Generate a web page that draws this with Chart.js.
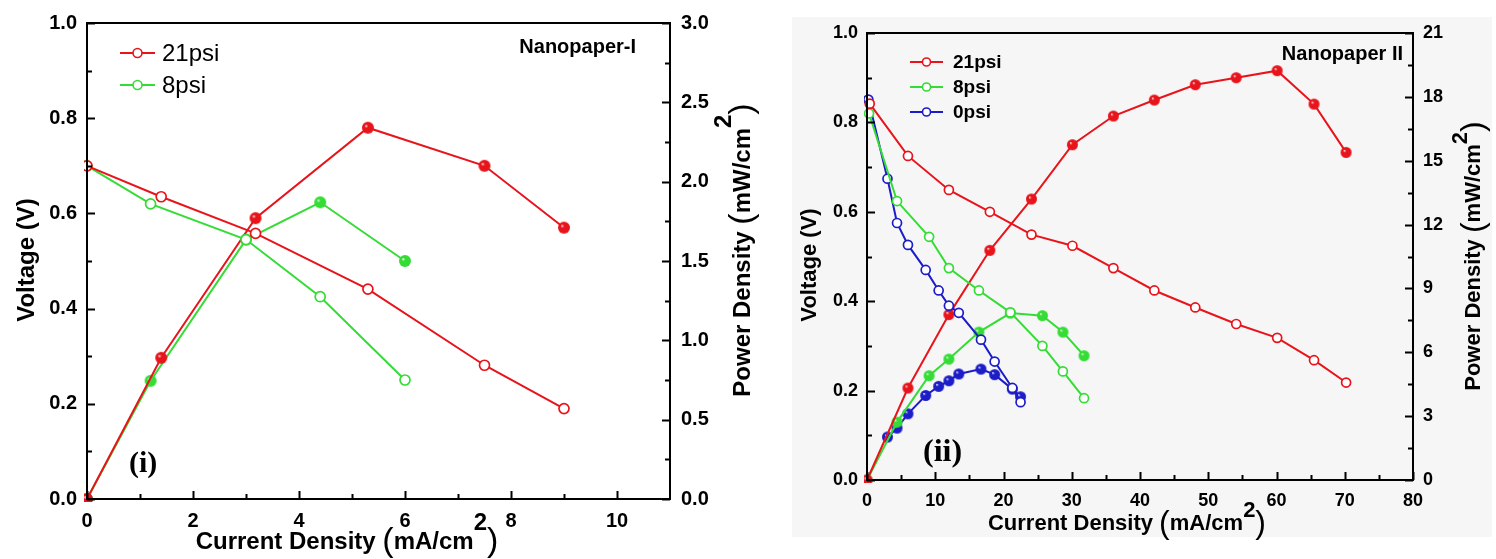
<!DOCTYPE html>
<html>
<head>
<meta charset="utf-8">
<script src="https://cdn.jsdelivr.net/npm/chart.js@4.4.1/dist/chart.umd.min.js"></script>
<style>
html, body { margin: 0; padding: 0; background: #fff; }
#wrap { position: relative; width: 1496px; height: 559px; overflow: hidden; }
#bg2 { position: absolute; left: 792px; top: 17px; width: 700px; height: 520px; background: #f6f6f6; }
#c1 { position: absolute; left: 0; top: 0; }
#c2 { position: absolute; left: 780px; top: 0; }
</style>
</head>
<body>
<div id="wrap">
  <div id="bg2"></div>
  <canvas id="c1" width="780" height="559"></canvas>
  <canvas id="c2" width="716" height="559"></canvas>
</div>
<script>
// ---------- panel (i): Nanopaper-I ----------
const namesA = ['21psi', '8psi'];
const cdA21 = [0, 1.4, 3.18, 5.3, 7.5, 9.0];
const voltA21 = [0.70, 0.635, 0.558, 0.441, 0.281, 0.19];
const powA21 = [0, 0.89, 1.77, 2.34, 2.10, 1.71];
const cdA8 = [0, 1.2, 3.0, 4.4, 6.0];
const voltA8 = [0.70, 0.62, 0.545, 0.425, 0.25];
const powA8 = [0, 0.745, 1.635, 1.87, 1.50];
const xTicksA = [0, 2, 4, 6, 8, 10];
const vTicksA = [0, 0.2, 0.4, 0.6, 0.8, 1.0];
const pTicksA = [0, 0.5, 1.0, 1.5, 2.0, 2.5, 3.0];

// ---------- panel (ii): Nanopaper II ----------
const namesB = ['21psi', '8psi', '0psi'];
const cdB21 = [0.4, 6.0, 12.0, 18.0, 24.1, 30.1, 36.1, 42.1, 48.1, 54.1, 60.1, 65.5, 70.2];
const voltB21 = [0.842, 0.725, 0.649, 0.600, 0.549, 0.524, 0.474, 0.424, 0.386, 0.349, 0.318, 0.268, 0.218];
const cdB21p = [0, 6.0, 12.0, 18.0, 24.1, 30.1, 36.1, 42.1, 48.1, 54.1, 60.1, 65.5, 70.2];
const powB21 = [0, 4.32, 7.77, 10.79, 13.2, 15.75, 17.1, 17.85, 18.57, 18.9, 19.23, 17.66, 15.39];
const cdB8 = [0.3, 4.4, 9.1, 12.0, 16.4, 21.0, 25.7, 28.7, 31.8];
const voltB8 = [0.82, 0.624, 0.544, 0.474, 0.424, 0.375, 0.300, 0.243, 0.183];
const cdB8p = [0, 4.4, 9.1, 12.0, 16.4, 21.0, 25.7, 28.7, 31.8];
const powB8 = [0, 2.72, 4.90, 5.68, 6.95, 7.84, 7.72, 6.95, 5.84];
const cdB0 = [0.2, 3.0, 4.4, 6.0, 8.6, 10.5, 12.0, 13.45, 16.7, 18.7, 21.3, 22.5];
const voltB0 = [0.851, 0.674, 0.575, 0.526, 0.470, 0.424, 0.390, 0.374, 0.314, 0.265, 0.206, 0.174];
const cdB0p = [3.0, 4.4, 6.0, 8.6, 10.5, 12.0, 13.45, 16.7, 18.7, 21.3, 22.5];
const powB0 = [2.02, 2.44, 3.11, 3.97, 4.40, 4.66, 4.98, 5.21, 4.95, 4.27, 3.91];
const xTicksB = [0, 10, 20, 30, 40, 50, 60, 70, 80];
const vTicksB = [0, 0.2, 0.4, 0.6, 0.8, 1.0];
const pTicksB = [0, 3, 6, 9, 12, 15, 18, 21];

const RED = '#e8141b', GREEN = '#35dc35', BLUE = '#1c1cc8';
const SANS = '"Liberation Sans", Arial, sans-serif';
const SERIF = '"Liberation Serif", "Times New Roman", serif';
const CLIP = { left: 3, bottom: 3, top: 30, right: 30 };

function pts(xs, ys) {
    return xs.map((x, i) => ({ x: x, y: ys[i] }));
}

// shaded ball marker, like the filled symbols of the original plot
function ball(color, r) {
    const s = Math.ceil(r * 2 + 2);
    const c = document.createElement('canvas');
    c.width = s; c.height = s;
    const g = c.getContext('2d');
    const m = s / 2;
    const grad = g.createRadialGradient(m - r * 0.35, m - r * 0.35, 0, m, m, r);
    grad.addColorStop(0, '#ffffff');
    grad.addColorStop(0.3, color);
    grad.addColorStop(1, color);
    g.fillStyle = grad;
    g.beginPath();
    g.arc(m, m, r, 0, Math.PI * 2);
    g.fill();
    return c;
}

// voltage curves: open circles on left axis
function openSet(label, xs, ys, color, r) {
    return {
        label: label, data: pts(xs, ys), yAxisID: 'y',
        borderColor: color, borderWidth: 2, tension: 0,
        pointRadius: r, pointBorderWidth: 1.7,
        pointBackgroundColor: '#fff', pointBorderColor: color, clip: CLIP
    };
}

// power curves: filled circles on right axis
function fillSet(label, xs, ys, color, r) {
    return {
        label: label, data: pts(xs, ys), yAxisID: 'y2',
        borderColor: color, borderWidth: 2, tension: 0,
        pointStyle: ball(color, r), pointRadius: r,
        pointBackgroundColor: color, pointBorderColor: color, clip: CLIP
    };
}

function richText(ctx, parts, x, y, rot) {
    ctx.save();
    ctx.translate(x, y);
    if (rot) ctx.rotate(rot);
    let w = 0;
    parts.forEach(p => { ctx.font = p[1]; w += ctx.measureText(p[0]).width; });
    let cx = -w / 2;
    ctx.textAlign = 'left';
    ctx.textBaseline = 'alphabetic';
    ctx.fillStyle = '#000';
    parts.forEach(p => {
        ctx.font = p[1];
        ctx.fillText(p[0], cx, p[2] || 0);
        cx += ctx.measureText(p[0]).width;
    });
    ctx.restore();
}

// frame, inward ticks, titles, legend and labels
function decor(cfg) {
    return {
        id: 'decor',
        afterDraw(chart) {
            const ctx = chart.ctx;
            const a = chart.chartArea;
            ctx.save();
            ctx.strokeStyle = '#000';
            ctx.lineWidth = 2;
            ctx.strokeRect(a.left, a.top, a.right - a.left, a.bottom - a.top);

            const drawTicks = (scale, vals, side) => {
                const all = [];
                vals.forEach((v, i) => {
                    all.push([v, 8]);
                    if (i < vals.length - 1) all.push([(v + vals[i + 1]) / 2, 5]);
                });
                ctx.beginPath();
                all.forEach(t => {
                    const p = Math.round(scale.getPixelForValue(t[0])) + 0.5;
                    if (side === 'bottom') { ctx.moveTo(p, a.bottom); ctx.lineTo(p, a.bottom - t[1]); }
                    if (side === 'left') { ctx.moveTo(a.left, p); ctx.lineTo(a.left + t[1], p); }
                    if (side === 'right') { ctx.moveTo(a.right, p); ctx.lineTo(a.right - t[1], p); }
                });
                ctx.stroke();
            };
            drawTicks(chart.scales.x, cfg.xTicks, 'bottom');
            drawTicks(chart.scales.y, cfg.vTicks, 'left');
            drawTicks(chart.scales.y2, cfg.pTicks, 'right');
            ctx.restore();

            // axis titles
            const t = cfg.titles;
            richText(ctx, [['Voltage (V)', t.font]], t.left[0], t.left[1], -Math.PI / 2);
            richText(ctx, [
                ['Power Density ', t.font],
                ['(', t.paren, t.pdy],
                ['mW/cm', t.font],
                ['2', t.font, -t.sup],
                [')', t.paren, t.pdy]
            ], t.right[0], t.right[1], -Math.PI / 2);
            richText(ctx, [
                ['Current Density ', t.font],
                ['(', t.paren, t.pdy],
                ['mA/cm', t.font],
                ['2', t.font, -t.sup],
                [')', t.paren, t.pdy]
            ], t.bottom[0], t.bottom[1], 0);

            // legend
            const lg = cfg.legend;
            ctx.save();
            lg.rows.forEach((row, i) => {
                const ds = chart.data.datasets[i];
                ctx.strokeStyle = ds.borderColor;
                ctx.lineWidth = 2;
                ctx.beginPath();
                ctx.moveTo(lg.x0, row);
                ctx.lineTo(lg.x1, row);
                ctx.stroke();
                ctx.beginPath();
                ctx.fillStyle = '#fff';
                ctx.lineWidth = 1.6;
                ctx.arc((lg.x0 + lg.x1) / 2, row, lg.r, 0, Math.PI * 2);
                ctx.fill();
                ctx.stroke();
                ctx.fillStyle = '#000';
                ctx.font = lg.font;
                ctx.textAlign = 'left';
                ctx.textBaseline = 'alphabetic';
                ctx.fillText(lg.names[i], lg.tx, row + lg.tdy);
            });

            // sample name and panel tag
            ctx.font = cfg.name.font;
            ctx.textAlign = 'right';
            ctx.fillText(cfg.name.text, cfg.name.x, cfg.name.y);
            ctx.font = cfg.tag.font;
            ctx.textAlign = 'left';
            ctx.fillText(cfg.tag.text, cfg.tag.x, cfg.tag.y);
            ctx.restore();
        }
    };
}

function makeChart(id, cfg) {
    const tickFont = { family: SANS, size: cfg.tickSize, weight: 'bold' };
    const noGrid = { display: false, drawTicks: false };
    return new Chart(document.getElementById(id), {
        type: 'line',
        data: { datasets: cfg.datasets },
        options: {
            responsive: false,
            animation: false,
            layout: { padding: { top: cfg.top, left: 0, right: 0, bottom: 0 }, autoPadding: false },
            plugins: { legend: { display: false }, tooltip: { enabled: false } },
            scales: {
                x: {
                    type: 'linear', min: cfg.xMin, max: cfg.xMax,
                    grid: noGrid, border: { display: false },
                    ticks: { font: tickFont, color: '#000', padding: cfg.xPad, maxRotation: 0, autoSkip: false,
                             callback: v => String(v) },
                    afterBuildTicks: s => { s.ticks = cfg.xTicks.map(v => ({ value: v })); },
                    afterFit: s => { s.height = cfg.xH; }
                },
                y: {
                    position: 'left', min: 0, max: 1,
                    grid: noGrid, border: { display: false },
                    ticks: { font: tickFont, color: '#000', padding: cfg.yPad, autoSkip: false,
                             callback: v => Number(v).toFixed(1) },
                    afterBuildTicks: s => { s.ticks = cfg.vTicks.map(v => ({ value: v })); },
                    afterFit: s => { s.width = cfg.yW; }
                },
                y2: {
                    position: 'right', min: cfg.pMin, max: cfg.pMax,
                    grid: noGrid, border: { display: false },
                    ticks: { font: tickFont, color: '#000', padding: cfg.y2Pad, autoSkip: false,
                             callback: cfg.pFmt },
                    afterBuildTicks: s => { s.ticks = cfg.pTicks.map(v => ({ value: v })); },
                    afterFit: s => { s.width = cfg.y2W; }
                }
            }
        },
        plugins: [decor(cfg)]
    });
}

// panel (i)
makeChart('c1', {
    datasets: [
        openSet(namesA[0], cdA21, voltA21, RED, 5),
        openSet(namesA[1], cdA8, voltA8, GREEN, 5),
        fillSet(namesA[0], cdA21, powA21, RED, 6),
        fillSet(namesA[1], cdA8, powA8, GREEN, 6)
    ],
    top: 20, xH: 60, yW: 87, y2W: 110,
    xMin: 0, xMax: 11, pMin: 0, pMax: 3,
    xTicks: xTicksA, vTicks: vTicksA, pTicks: pTicksA,
    pFmt: v => Number(v).toFixed(1),
    tickSize: 20, xPad: 10, yPad: 10, y2Pad: 11,
    titles: {
        font: 'bold 24px ' + SANS, paren: '34px ' + SANS, pdy: 2, sup: 19,
        left: [34, 260], right: [750, 250], bottom: [347, 549]
    },
    legend: { names: namesA, rows: [53, 85], x0: 120, x1: 155, r: 4.5, tx: 162, tdy: 8, font: '24px ' + SANS },
    name: { text: 'Nanopaper-I', font: 'bold 20px ' + SANS, x: 636, y: 53 },
    tag: { text: '(i)', font: 'bold 30px ' + SERIF, x: 129, y: 472 }
});

// panel (ii)
makeChart('c2', {
    datasets: [
        openSet(namesB[0], cdB21, voltB21, RED, 4.5),
        openSet(namesB[1], cdB8, voltB8, GREEN, 4.5),
        openSet(namesB[2], cdB0, voltB0, BLUE, 4.5),
        fillSet(namesB[0], cdB21p, powB21, RED, 5.5),
        fillSet(namesB[1], cdB8p, powB8, GREEN, 5.5),
        fillSet(namesB[2], cdB0p, powB0, BLUE, 5.5)
    ],
    top: 33, xH: 79, yW: 87, y2W: 83,
    xMin: 0, xMax: 80, pMin: 0, pMax: 21,
    xTicks: xTicksB, vTicks: vTicksB, pTicks: pTicksB,
    pFmt: v => String(v),
    tickSize: 18, xPad: 10, yPad: 9, y2Pad: 10,
    titles: {
        font: 'bold 22px ' + SANS, paren: '32px ' + SANS, pdy: 3, sup: 13,
        left: [36, 265], right: [700, 256], bottom: [347, 530]
    },
    legend: { names: namesB, rows: [62, 87, 112], x0: 130, x1: 163, r: 4, tx: 173, tdy: 6, font: 'bold 19px ' + SANS },
    name: { text: 'Nanopaper II', font: 'bold 20px ' + SANS, x: 623, y: 60 },
    tag: { text: '(ii)', font: 'bold 32px ' + SERIF, x: 143, y: 461 }
});
</script>
</body>
</html>
